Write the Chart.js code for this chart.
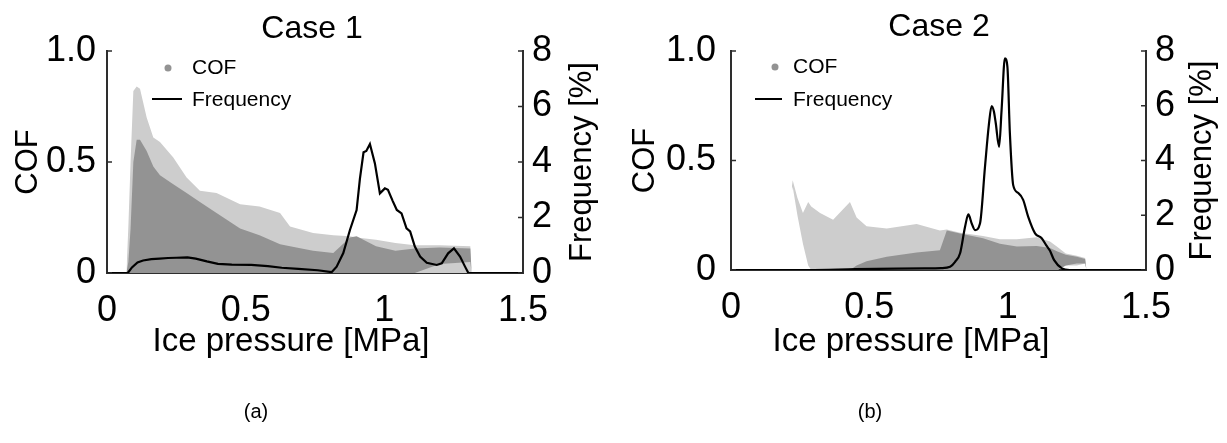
<!DOCTYPE html>
<html>
<head>
<meta charset="utf-8">
<title>COF and frequency vs ice pressure</title>
<script src="https://cdn.jsdelivr.net/npm/chart.js@4/dist/chart.umd.min.js"></script>
<style>
    html, body { margin: 0; padding: 0; background: #fff; }
    #wrap { position: relative; width: 1227px; height: 443px; overflow: hidden; }
    #wrap canvas { position: absolute; top: 0; }
    .tag { position: absolute; top: 400px; width: 60px; text-align: center; line-height: 20px;
           font: 20px "Liberation Sans", Arial, sans-serif; color: #000; }
</style>
</head>
<body>
<div id="wrap">
    <canvas id="case1" width="613" height="443" style="left:0"></canvas>
    <canvas id="case2" width="614" height="443" style="left:613px"></canvas>
    <div class="tag" style="left:226px">(a)</div>
    <div class="tag" style="left:840px">(b)</div>
</div>
<script>
// axis ticks
var pressureTicks = [0, 0.5, 1, 1.5];
var pressureTickLabels = ["0", "0.5", "1", "1.5"];
var cofTicks = [0, 0.5, 1];
var cofTickLabels = ["0", "0.5", "1.0"];
var freqTicks = [0, 2, 4, 6, 8];

// Case 1: frequency of ice pressure [%]
var freq1X = [0, 0.075, 0.09, 0.11, 0.13, 0.16, 0.19, 0.22, 0.25, 0.29, 0.32, 0.36, 0.40, 0.45, 0.52, 0.58,
              0.63, 0.69, 0.76, 0.81, 0.828, 0.852, 0.876, 0.9, 0.912, 0.925, 0.935, 0.948, 0.966, 0.984,
              1.002, 1.013, 1.03, 1.045, 1.062, 1.08, 1.093, 1.11, 1.129, 1.153, 1.189, 1.207, 1.23,
              1.251, 1.273, 1.291, 1.303, 1.5];
var freq1Y = [0, 0, 0.2, 0.38, 0.45, 0.5, 0.52, 0.54, 0.55, 0.56, 0.52, 0.42, 0.33, 0.3, 0.29, 0.25,
              0.19, 0.15, 0.1, 0.03, 0.23, 0.72, 1.55, 2.27, 3.4, 4.35, 4.4, 4.65, 3.95, 2.87,
              3.05, 3.0, 2.6, 2.27, 2.15, 1.61, 1.5, 0.95, 0.59, 0.37, 0.29, 0.35, 0.71,
              0.89, 0.59, 0.23, 0, 0];

// Case 1: COF cloud, outer spread and dense core
var cof1X          = [0.07, 0.077, 0.085, 0.095, 0.107, 0.119, 0.143, 0.167, 0.191, 0.239, 0.287, 0.335, 0.395,
                      0.48, 0.55, 0.624, 0.66, 0.743, 0.816, 0.876, 0.9, 0.97, 1.04, 1.11, 1.2, 1.31, 1.315];
var cof1Top        = [0, 0.21, 0.5, 0.82, 0.84, 0.83, 0.7, 0.61, 0.59, 0.52, 0.43, 0.37, 0.36,
                      0.31, 0.3, 0.27, 0.21, 0.18, 0.17, 0.165, 0.16, 0.15, 0.135, 0.125, 0.125, 0.12, 0];
var cof1Bottom     = [0, 0, 0, 0, 0, 0, 0, 0, 0, 0, 0, 0, 0,
                      0, 0, 0, 0, 0, 0, 0, 0, 0, 0, 0, 0, 0, 0];
var cof1CoreTop    = [0, 0.05, 0.2, 0.5, 0.6, 0.6, 0.55, 0.48, 0.44, 0.4, 0.36, 0.32, 0.27,
                      0.2, 0.17, 0.13, 0.12, 0.1, 0.09, 0.16, 0.165, 0.12, 0.1, 0.11, 0.115, 0.11, 0];
var cof1CoreBottom = [0, 0, 0, 0, 0, 0, 0, 0, 0, 0, 0, 0, 0,
                      0, 0, 0, 0, 0, 0, 0, 0, 0, 0, 0, 0.04, 0.05, 0];

// Case 2: frequency of ice pressure [%]
var freq2X = [0, 0.28, 0.45, 0.6, 0.7, 0.76, 0.792, 0.81, 0.828, 0.846, 0.858, 0.87, 0.882, 0.9, 0.918,
              0.932, 0.942, 0.95, 0.957, 0.969, 0.978, 0.99, 0.999, 1.008, 1.02, 1.038, 1.056, 1.074,
              1.099, 1.123, 1.139, 1.153, 1.168, 1.196, 1.224, 1.5];
var freq2Y = [0, 0, 0.03, 0.05, 0.06, 0.07, 0.12, 0.3, 0.61, 1.58, 2.03, 1.7, 1.46, 1.7, 3.77,
              5.3, 5.99, 5.8, 5.36, 4.5, 5.84, 7.73, 7.43, 4.99, 3.1, 2.82, 2.56, 1.95,
              1.34, 1.16, 0.91, 0.7, 0.36, 0.06, 0, 0];

// Case 2: COF cloud
var cof2X          = [0.22, 0.223, 0.24, 0.26, 0.279, 0.29, 0.322, 0.369, 0.43, 0.454, 0.49, 0.563, 0.671,
                      0.755, 0.78, 0.828, 0.911, 0.972, 1.033, 1.105, 1.153, 1.18, 1.21, 1.25, 1.28, 1.285];
var cof2Top        = [0.38, 0.41, 0.33, 0.26, 0.31, 0.29, 0.26, 0.23, 0.31, 0.24, 0.2, 0.19, 0.21,
                      0.18, 0.185, 0.17, 0.155, 0.14, 0.14, 0.15, 0.13, 0.105, 0.075, 0.065, 0.055, 0];
var cof2Bottom     = [0.36, 0.38, 0.25, 0.12, 0.02, 0, 0, 0, 0, 0, 0, 0, 0,
                      0, 0, 0, 0, 0, 0, 0, 0, 0, 0.02, 0.02, 0.03, 0];
var cof2CoreTop    = [0, 0, 0, 0, 0, 0, 0, 0, 0, 0.02, 0.04, 0.06, 0.08,
                      0.09, 0.18, 0.167, 0.145, 0.12, 0.107, 0.11, 0.1, 0.085, 0.07, 0.06, 0.05, 0];
var cof2CoreBottom = [0, 0, 0, 0, 0, 0, 0, 0, 0, 0, 0, 0, 0,
                      0, 0, 0, 0, 0, 0, 0, 0, 0, 0.02, 0.03, 0.03, 0];

var fontFamily = '"Liberation Sans", Arial, Helvetica, sans-serif';
var axisColor = "#2e2e2e";
var cloudLight = "#cdcdcd";
var cloudDark = "#939393";

function toPoints(xs, ys) {
    return xs.map(function (x, i) { return {x: x, y: ys[i]}; });
}

// inward tick marks, panel title, axis titles the scales can't place, and the legend
var panelDecor = {
    id: "panelDecor",
    afterDraw: function (chart, args, opt) {
        var ctx = chart.ctx;
        var area = chart.chartArea;
        var yL = chart.scales.y;
        var yR = chart.scales.y1;

        ctx.save();
        ctx.strokeStyle = axisColor;
        ctx.lineWidth = 1.5;
        ctx.beginPath();
        cofTicks.forEach(function (v) {
            var py = yL.getPixelForValue(v);
            ctx.moveTo(area.left, py);
            ctx.lineTo(area.left + 5, py);
        });
        freqTicks.forEach(function (v) {
            var py = yR.getPixelForValue(v);
            ctx.moveTo(area.right, py);
            ctx.lineTo(area.right - 5, py);
        });
        ctx.stroke();

        ctx.fillStyle = "#000";
        ctx.textAlign = "center";
        ctx.textBaseline = "alphabetic";
        ctx.font = "32px " + fontFamily;
        ctx.fillText(opt.title, opt.titleX, opt.titleY);

        ctx.font = "33px " + fontFamily;
        ctx.fillText("Ice pressure [MPa]", opt.xTitleX, 351);

        // frequency title reads upwards, same as the COF one
        ctx.save();
        ctx.translate(opt.freqTitleX, (area.top + area.bottom) / 2);
        ctx.rotate(-Math.PI / 2);
        ctx.font = "31px " + fontFamily;
        ctx.textBaseline = "middle";
        ctx.fillText("Frequency [%]", 0, 0);
        ctx.restore();

        // legend
        var row1 = area.top + opt.legendRows[0];
        var row2 = area.top + opt.legendRows[1];
        ctx.fillStyle = cloudDark;
        ctx.beginPath();
        ctx.arc(area.left + opt.legendDot, row1, 3.5, 0, Math.PI * 2);
        ctx.fill();
        ctx.strokeStyle = "#000";
        ctx.lineWidth = 2;
        ctx.beginPath();
        ctx.moveTo(area.left + opt.legendLine[0], row2);
        ctx.lineTo(area.left + opt.legendLine[1], row2);
        ctx.stroke();
        ctx.fillStyle = "#000";
        ctx.textAlign = "left";
        ctx.textBaseline = "middle";
        ctx.font = "21px " + fontFamily;
        ctx.fillText("COF", area.left + opt.legendText, row1);
        ctx.fillText("Frequency", area.left + opt.legendText, row2 + 1);
        ctx.restore();
    }
};

function hiddenEdge(label, xs, ys, order) {
    return {
        label: label, data: toPoints(xs, ys), yAxisID: "y",
        borderWidth: 0, borderColor: "rgba(0,0,0,0)", pointRadius: 0, fill: false, order: order
    };
}

function drawCase(canvasId, c) {
    var ctx = document.getElementById(canvasId).getContext("2d");

    return new Chart(ctx, {
        type: "line",
        data: {
            datasets: [{
                label: "Frequency",
                data: toPoints(c.freqX, c.freqY),
                yAxisID: "y1",
                borderColor: "#000",
                borderWidth: 2.2,
                pointRadius: 0,
                fill: false,
                tension: 0,
                cubicInterpolationMode: c.smooth ? "monotone" : "default",
                order: 0
            }, {
                label: "COF",
                data: toPoints(c.cofX, c.coreTop),
                yAxisID: "y",
                borderWidth: 0,
                borderColor: "rgba(0,0,0,0)",
                backgroundColor: cloudDark,
                pointRadius: 0,
                fill: 2,
                order: 1
            },
            hiddenEdge("COF core base", c.cofX, c.coreBottom, 1),
            {
                label: "COF spread",
                data: toPoints(c.cofX, c.top),
                yAxisID: "y",
                borderWidth: 0,
                borderColor: "rgba(0,0,0,0)",
                backgroundColor: cloudLight,
                pointRadius: 0,
                fill: 4,
                order: 2
            },
            hiddenEdge("COF spread base", c.cofX, c.bottom, 2)]
        },
        options: {
            responsive: false,
            animation: false,
            events: [],
            layout: {padding: {top: 51, left: 0, right: 0, bottom: 0}},
            plugins: {
                legend: {display: false},
                tooltip: {enabled: false},
                panelDecor: c.decor
            },
            scales: {
                x: {
                    type: "linear",
                    position: "bottom",
                    min: 0,
                    max: 1.5,
                    afterBuildTicks: function (s) {
                        s.ticks = pressureTicks.map(function (v) { return {value: v}; });
                    },
                    afterFit: function (s) { s.height = c.xHeight; },
                    grid: {drawOnChartArea: false, drawTicks: false},
                    border: {display: true, color: axisColor, width: 2},
                    ticks: {
                        color: "#000", padding: 16, maxRotation: 0, autoSkip: false,
                        font: {family: fontFamily, size: 36},
                        callback: function (v) { return pressureTickLabels[pressureTicks.indexOf(v)]; }
                    }
                },
                y: {
                    type: "linear",
                    position: "left",
                    min: 0,
                    max: 1,
                    afterBuildTicks: function (s) {
                        s.ticks = cofTicks.map(function (v) { return {value: v}; });
                    },
                    afterFit: function (s) { s.width = c.leftWidth; },
                    grid: {drawOnChartArea: false, drawTicks: false},
                    border: {display: true, color: axisColor, width: 2},
                    ticks: {
                        color: "#000", padding: c.leftPad,
                        font: {family: fontFamily, size: 36},
                        callback: function (v) { return cofTickLabels[cofTicks.indexOf(v)]; }
                    },
                    title: {
                        display: true, text: "COF", color: "#000",
                        font: {family: fontFamily, size: 31}, padding: {top: c.cofTitlePad, bottom: 0}
                    }
                },
                y1: {
                    type: "linear",
                    position: "right",
                    min: 0,
                    max: 8,
                    afterBuildTicks: function (s) {
                        s.ticks = freqTicks.map(function (v) { return {value: v}; });
                    },
                    afterFit: function (s) { s.width = c.rightWidth; },
                    grid: {drawOnChartArea: false, drawTicks: false},
                    border: {display: true, color: axisColor, width: 2},
                    ticks: {
                        color: "#000", padding: 9,
                        font: {family: fontFamily, size: 36}
                    }
                }
            }
        },
        plugins: [panelDecor]
    });
}

drawCase("case1", {
    freqX: freq1X, freqY: freq1Y, smooth: false,
    cofX: cof1X, top: cof1Top, bottom: cof1Bottom, coreTop: cof1CoreTop, coreBottom: cof1CoreBottom,
    leftWidth: 107, rightWidth: 90, xHeight: 170, leftPad: 11, cofTitlePad: 10,
    decor: {
        title: "Case 1", titleX: 312, titleY: 38, freqTitleX: 582, xTitleX: 291,
        legendRows: [17, 48], legendDot: 61, legendLine: [45, 75], legendText: 85
    }
});

drawCase("case2", {
    freqX: freq2X, freqY: freq2Y, smooth: true,
    cofX: cof2X, top: cof2Top, bottom: cof2Bottom, coreTop: cof2CoreTop, coreBottom: cof2CoreBottom,
    leftWidth: 118, rightWidth: 81, xHeight: 173, leftPad: 15, cofTitlePad: 14,
    decor: {
        title: "Case 2", titleX: 326, titleY: 36, freqTitleX: 589, xTitleX: 298,
        legendRows: [16, 48], legendDot: 44, legendLine: [24, 51], legendText: 62
    }
});
</script>
</body>
</html>
